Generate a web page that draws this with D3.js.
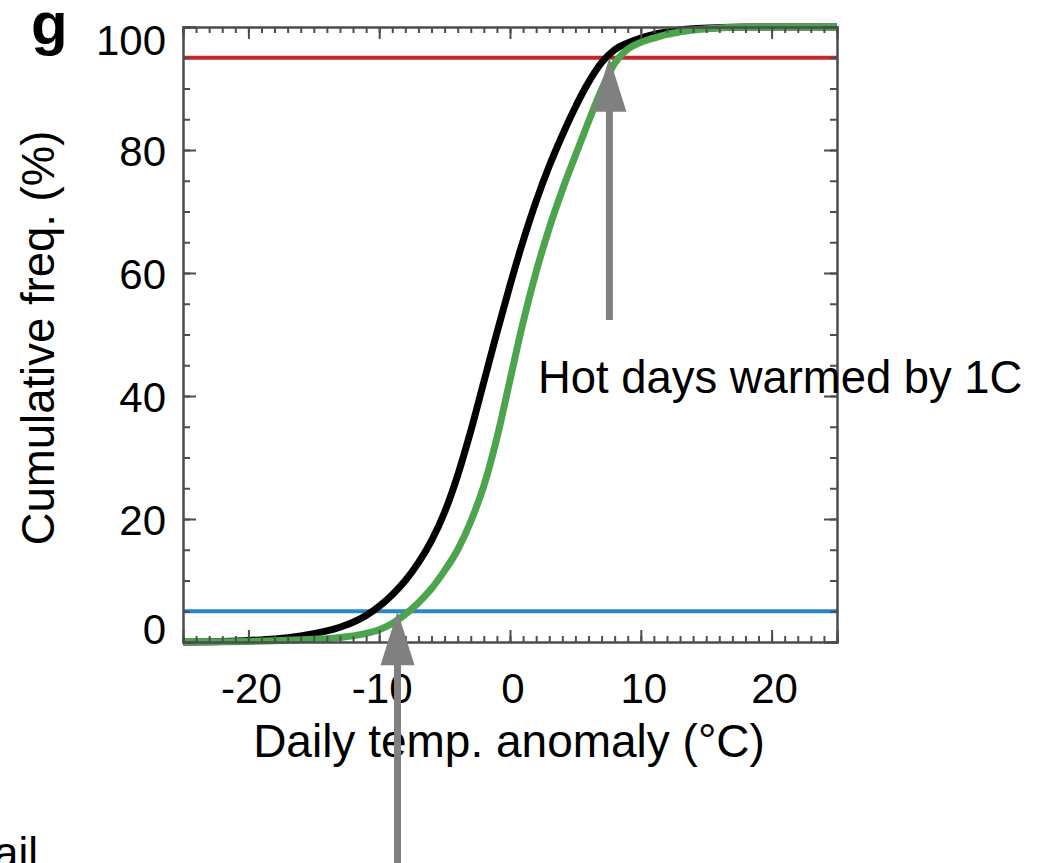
<!DOCTYPE html>
<html lang="en">
<head>
<meta charset="UTF-8">
<title>Cumulative frequency of daily temperature anomaly</title>
<script src="https://d3js.org/d3.v7.min.js"></script>
<style>
    body { margin: 0; background: #fff; }
    svg text { font-family: "Liberation Sans", Arial, Helvetica, sans-serif; fill: #000; }
    .axis path, .axis line { stroke: #4d4d4d; stroke-width: 2; }
</style>
</head>
<body>

<svg width="1060" height="863"></svg>

<script>

    // daily temperature anomaly (C) at which the curves were read
    var anomaly = [-25, -22, -20, -18, -16, -15, -14, -13, -12, -11, -10, -9, -8, -7, -6, -5, -4, -3, -2, -1,
                   0, 1, 2, 3, 4, 5, 6, 7, 8, 9, 10, 11, 12, 13, 14, 16, 18, 20, 25];
    // cumulative frequency (%), reference period (black)
    var cdfBlack = [0.0, 0.1, 0.25, 0.5, 1.0, 1.35, 1.8, 2.4, 3.2, 4.3, 5.8, 7.7, 10.0, 12.9, 16.5, 21.1, 27.1, 34.3, 42.3, 50.3,
                    58.0, 65.2, 71.7, 77.4, 82.4, 87.0, 91.0, 94.2, 96.3, 97.4, 98.2, 98.8, 99.2, 99.5, 99.7, 99.9, 100, 100, 100];
    // cumulative frequency (%), warmed period (green)
    var cdfGreen = [0.0, 0.05, 0.1, 0.2, 0.35, 0.45, 0.55, 0.75, 1.0, 1.4, 2.0, 3.0, 4.5, 6.4, 8.7, 11.6, 15.0, 19.6, 25.4, 33.2,
                    42.6, 52.0, 60.2, 67.3, 73.5, 79.1, 84.6, 89.8, 94.1, 96.4, 97.5, 98.2, 98.8, 99.2, 99.5, 99.85, 100, 100, 100];

    var xTicks = [-20, -10, 0, 10, 20];
    var yTicks = [0, 20, 40, 60, 80, 100];
    var percentiles = [5, 95];          // blue, red
    var arrowAt = [-8.6, 7.6];          // anomaly where the grey arrows point
    var hotLabel = "Hot days warmed by 1C";

    var svg = d3.select("svg"),
        box = {left: 183, right: 837, top: 27, bottom: 642};

    var x = d3.scaleLinear().domain([-25, 25]).range([box.left, box.right]);
    var y = d3.scaleLinear().domain([0, 100]).range([box.bottom, box.top]);

    var plot = svg.append("g");

    // percentile lines
    plot.selectAll(".pct")
        .data(percentiles)
        .enter().append("line")
        .attr("x1", box.left).attr("x2", box.right)
        .attr("y1", function(d) { return y(d); })
        .attr("y2", function(d) { return y(d); })
        .attr("stroke", function(d) { return d === 5 ? "#2a86c6" : "#c2262e"; })
        .attr("stroke-width", 3.8);

    // curves
    var line = d3.line()
        .x(function(d) { return x(d[0]); })
        .y(function(d) { return y(d[1]); })
        .curve(d3.curveMonotoneX);

    plot.append("path")
        .datum(d3.zip(anomaly, cdfBlack))
        .attr("d", line)
        .attr("fill", "none")
        .attr("stroke", "#000")
        .attr("stroke-width", 7);

    plot.append("path")
        .datum(d3.zip(anomaly, cdfGreen))
        .attr("d", line)
        .attr("fill", "none")
        .attr("stroke", "#4ca44c")
        .attr("stroke-width", 7);

    // axes, ticks pointing inward
    function tickAxis(axis, pos, values, size) {
        svg.append("g")
            .attr("class", "axis")
            .attr("transform", pos)
            .call(axis.tickValues(values).tickSize(size).tickFormat(""))
            .call(function(g) { g.select(".domain").attr("fill", "none"); });
    }
    var minorX = d3.range(-25, 26, 1), minorY = d3.range(0, 101, 5);
    tickAxis(d3.axisBottom(x), "translate(0," + box.bottom + ")", minorX, -6);
    tickAxis(d3.axisBottom(x), "translate(0," + box.bottom + ")", xTicks, -12);
    tickAxis(d3.axisTop(x), "translate(0," + box.top + ")", minorX, -6);
    tickAxis(d3.axisTop(x), "translate(0," + box.top + ")", xTicks, -12);
    tickAxis(d3.axisLeft(y), "translate(" + box.left + ",0)", minorY, -7);
    tickAxis(d3.axisLeft(y), "translate(" + box.left + ",0)", yTicks, -13);
    tickAxis(d3.axisRight(y), "translate(" + box.right + ",0)", minorY, -7);
    tickAxis(d3.axisRight(y), "translate(" + box.right + ",0)", yTicks, -13);

    // tick labels
    svg.selectAll(".xlab")
        .data(xTicks)
        .enter().append("text")
        .attr("x", function(d) { return x(d) + 3; })
        .attr("y", 703)
        .attr("text-anchor", "middle")
        .style("font-size", "42px")
        .text(function(d) { return d; });

    svg.selectAll(".ylab")
        .data(yTicks)
        .enter().append("text")
        .attr("x", 166)
        .attr("y", function(d) {
            if (d === 0) return y(d) + 2;
            if (d === 100) return y(d) + 28;
            return y(d) + 16;
        })
        .attr("text-anchor", "end")
        .style("font-size", "42px")
        .text(function(d) { return d; });

    // axis titles
    svg.append("text")
        .attr("x", 509).attr("y", 757)
        .attr("text-anchor", "middle")
        .style("font-size", "46px")
        .text("Daily temp. anomaly (°C)");

    svg.append("text")
        .attr("transform", "translate(54,338) rotate(-90)")
        .attr("text-anchor", "middle")
        .style("font-size", "45.5px")
        .text("Cumulative freq. (%)");

    svg.append("text")
        .attr("x", 31).attr("y", 44)
        .style("font-size", "60px")
        .style("font-weight", "bold")
        .text("g");

    // arrows
    var arrows = [
        {at: arrowAt[1], tip: percentiles[1], tail: 320},
        {at: arrowAt[0], tip: percentiles[0], tail: 880}
    ];
    arrows.forEach(function(a) {
        var ax = x(a.at), ty = y(a.tip), base = ty + 54;
        svg.append("line")
            .attr("x1", ax).attr("x2", ax)
            .attr("y1", base - 2).attr("y2", a.tail)
            .attr("stroke", "#808080")
            .attr("stroke-width", 7);
        svg.append("path")
            .attr("d", "M" + ax + "," + ty + "L" + (ax + 17) + "," + base + "L" + (ax - 17) + "," + base + "Z")
            .attr("fill", "#808080");
    });

    svg.append("text")
        .attr("x", 538).attr("y", 393)
        .style("font-size", "45.4px")
        .text(hotLabel);

    svg.append("text")
        .attr("x", 38).attr("y", 868)
        .attr("text-anchor", "end")
        .style("font-size", "44px")
        .text("ail");

</script>

</body>
</html>
